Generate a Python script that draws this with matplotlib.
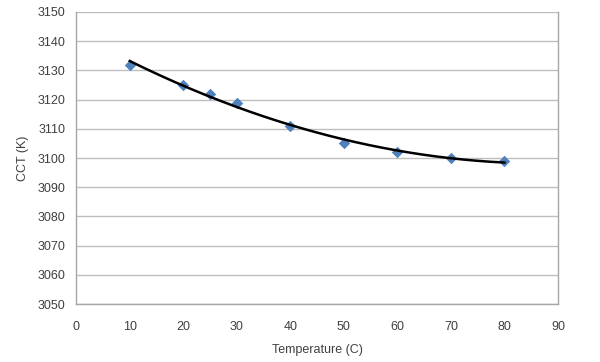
import numpy as np
import matplotlib
matplotlib.use("Agg")
import matplotlib.pyplot as plt

plt.rcParams['font.family'] = ['Liberation Sans', 'DejaVu Sans']

temperature = [10, 20, 25, 30, 40, 50, 60, 70, 80]
cct = [3132, 3125, 3122, 3119, 3111, 3105, 3102, 3100, 3099]

x_ticks = list(range(0, 91, 10))
y_ticks = list(range(3050, 3151, 10))

fig = plt.figure(figsize=(6.0, 3.62), dpi=100)
ax = fig.add_axes([0.127, 0.160, 0.803, 0.807])

# polynomial (order 2) trendline fitted to the data, as in the source chart
coef = np.polyfit(temperature, cct, 2)
xs = np.linspace(min(temperature), max(temperature), 200)
ax.plot(xs, np.polyval(coef, xs), color='black', lw=1.8, zorder=3)

ax.scatter(temperature, cct, marker='D', s=34, color='#4F81BD', zorder=2, linewidths=0)

ax.set_xlim(0, 90)
ax.set_ylim(3050, 3150)
ax.set_xticks(x_ticks)
ax.set_yticks(y_ticks)
ax.yaxis.grid(True, color='#BEBEBE', lw=1)
ax.set_axisbelow(True)
ax.tick_params(length=0, labelsize=9, colors='#404040')
ax.tick_params(axis='x', pad=12)
ax.tick_params(axis='y', pad=8)
for s in ax.spines.values():
    s.set_color('#A6A6A6')
    s.set_linewidth(1)
ax.spines['top'].set_visible(False)

ax.set_xlabel('Temperature (C)', fontsize=9, color='#404040', labelpad=8)
ax.set_ylabel('CCT (K)', fontsize=9, color='#404040', labelpad=6)

fig.savefig('out.png', dpi=100, facecolor='white')
